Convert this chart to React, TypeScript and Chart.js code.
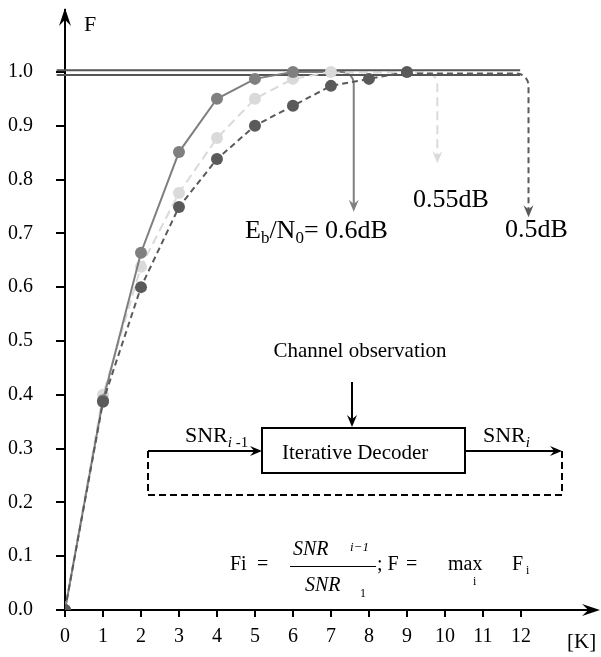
import React, { useEffect, useRef } from "react";
import { Chart, registerables } from "chart.js";

Chart.register(...registerables);

// ---- data ----
const kValues = [0, 1, 2, 3, 4, 5, 6, 7, 8, 9];
const f06dB = [0, 0.39, 0.664, 0.851, 0.95, 0.987, 1.0];
const f055dB = [0, 0.4, 0.638, 0.775, 0.877, 0.95, 0.987, 1.0];
const f05dB = [0, 0.387, 0.6, 0.749, 0.838, 0.9, 0.937, 0.974, 0.987, 1.0];
const xTickValues = [0, 1, 2, 3, 4, 5, 6, 7, 8, 9, 10, 11, 12];
const yTickValues = [0, 0.1, 0.2, 0.3, 0.4, 0.5, 0.6, 0.7, 0.8, 0.9, 1.0];
const limitLinesF = [1.003, 0.994];
const limitLineK = [-0.22, 11.98];
// convergence arrows per series (0.6dB, 0.55dB, 0.5dB)
const arrowStartK = [6, 7, 9];
const arrowLevelF = [1.0, 0.999, 0.997];
const arrowTurnK = [7.6, 9.8, 12.2];
const arrowEndF = [0.74, 0.83, 0.73];

const COL_MED = "#7f7f7f";
const COL_LIGHT = "#dadada";
const COL_DARK = "#5a5a5a";
const seriesColors = [COL_MED, COL_LIGHT, COL_DARK];
const seriesDash: number[][] = [[], [9, 5], [6, 4]];
const SERIF = "'Liberation Serif', 'Times New Roman', serif";

const toPts = (vals: number[]) => vals.map((v, i) => ({ x: kValues[i], y: v }));

type Run = { t: string; size: number; italic?: boolean; dy?: number };
function drawRuns(ctx: CanvasRenderingContext2D, x: number, y: number, runs: Run[]) {
  let cx = x;
  for (const r of runs) {
    ctx.font = `${r.italic ? "italic " : ""}${r.size}px ${SERIF}`;
    ctx.fillText(r.t, cx, y + (r.dy || 0));
    cx += ctx.measureText(r.t).width;
  }
}

function arrowHead(ctx: CanvasRenderingContext2D, tx: number, ty: number, dir: "down" | "up" | "right", len = 12, half = 5) {
  ctx.beginPath();
  if (dir === "down") {
    ctx.moveTo(tx, ty);
    ctx.lineTo(tx - half, ty - len);
    ctx.lineTo(tx, ty - len * 0.65);
    ctx.lineTo(tx + half, ty - len);
  } else if (dir === "up") {
    ctx.moveTo(tx, ty);
    ctx.lineTo(tx - half, ty + len);
    ctx.lineTo(tx, ty + len * 0.65);
    ctx.lineTo(tx + half, ty + len);
  } else {
    ctx.moveTo(tx, ty);
    ctx.lineTo(tx - len, ty - half);
    ctx.lineTo(tx - len * 0.65, ty);
    ctx.lineTo(tx - len, ty + half);
  }
  ctx.closePath();
  ctx.fill();
}

const convergencePlugin = {
  id: "convergence",
  beforeDatasetsDraw(chart: any) {
    const { ctx, scales } = chart;
    const xs = scales.x, ys = scales.y;
    ctx.save();
    for (let i = 0; i < arrowStartK.length; i++) {
      const x0 = xs.getPixelForValue(arrowStartK[i]);
      const yL = ys.getPixelForValue(arrowLevelF[i]);
      const xT = xs.getPixelForValue(arrowTurnK[i]);
      const yE = ys.getPixelForValue(arrowEndF[i]);
      const r = 12;
      ctx.strokeStyle = seriesColors[i];
      ctx.fillStyle = seriesColors[i];
      ctx.lineWidth = 2;
      ctx.setLineDash(seriesDash[i]);
      ctx.beginPath();
      ctx.moveTo(x0, yL);
      ctx.lineTo(xT - r, yL);
      ctx.arcTo(xT, yL, xT, yL + r, r);
      ctx.lineTo(xT, yE - 6);
      ctx.stroke();
      ctx.setLineDash([]);
      arrowHead(ctx, xT, yE, "down", 12, 5);
    }
    ctx.restore();
  },
  afterDraw(chart: any) {
    const { ctx, chartArea } = chart;
    ctx.save();
    ctx.fillStyle = "#000";
    ctx.strokeStyle = "#000";
    // axis arrows
    arrowHead(ctx, chartArea.left, 8, "up", 18, 6);
    arrowHead(ctx, 600, chartArea.bottom, "right", 18, 6);
    ctx.textBaseline = "alphabetic";
    ctx.textAlign = "left";
    drawRuns(ctx, 84, 31, [{ t: "F", size: 22 }]);
    drawRuns(ctx, 567, 648, [{ t: "[K]", size: 21 }]);

    // series labels
    drawRuns(ctx, 245, 238, [
      { t: "E", size: 26 },
      { t: "b", size: 17, dy: 5 },
      { t: "/N", size: 26 },
      { t: "0", size: 17, dy: 5 },
      { t: "= 0.6dB", size: 26 },
    ]);
    drawRuns(ctx, 413, 207, [{ t: "0.55dB", size: 26 }]);
    drawRuns(ctx, 505, 237, [{ t: "0.5dB", size: 26 }]);

    // block diagram
    ctx.textAlign = "center";
    ctx.font = `21px ${SERIF}`;
    ctx.fillText("Channel observation", 360, 357);
    ctx.textAlign = "left";
    ctx.lineWidth = 2;
    ctx.beginPath();
    ctx.moveTo(352, 382);
    ctx.lineTo(352, 420);
    ctx.stroke();
    arrowHead(ctx, 352, 427, "down", 12, 5);
    ctx.strokeRect(262, 428, 203, 45);
    drawRuns(ctx, 282, 459, [{ t: "Iterative Decoder", size: 21 }]);
    ctx.beginPath();
    ctx.moveTo(148, 451);
    ctx.lineTo(256, 451);
    ctx.moveTo(465, 451);
    ctx.lineTo(556, 451);
    ctx.stroke();
    arrowHead(ctx, 262, 451, "right", 12, 5);
    arrowHead(ctx, 562, 451, "right", 12, 5);
    drawRuns(ctx, 185, 442, [
      { t: "SNR", size: 22 },
      { t: "i", size: 15, italic: true, dy: 5 },
      { t: " -1", size: 15, dy: 5 },
    ]);
    drawRuns(ctx, 483, 442, [
      { t: "SNR", size: 22 },
      { t: "i", size: 15, italic: true, dy: 5 },
    ]);
    ctx.setLineDash([7, 4]);
    ctx.beginPath();
    ctx.moveTo(562, 451);
    ctx.lineTo(562, 495);
    ctx.lineTo(148, 495);
    ctx.lineTo(148, 451);
    ctx.stroke();
    ctx.setLineDash([]);

    // formula
    drawRuns(ctx, 230, 570, [{ t: "Fi", size: 20 }]);
    drawRuns(ctx, 257, 570, [{ t: "=", size: 20 }]);
    drawRuns(ctx, 293, 555, [{ t: "SNR", size: 20, italic: true }]);
    drawRuns(ctx, 350, 551, [{ t: "i\u22121", size: 13, italic: true }]);
    ctx.lineWidth = 1;
    ctx.beginPath();
    ctx.moveTo(290, 566.5);
    ctx.lineTo(376, 566.5);
    ctx.stroke();
    drawRuns(ctx, 305, 591, [{ t: "SNR", size: 20, italic: true }]);
    drawRuns(ctx, 360, 597, [{ t: "1", size: 12 }]);
    drawRuns(ctx, 377, 570, [{ t: "; F", size: 20 }]);
    drawRuns(ctx, 406, 570, [{ t: "=", size: 20 }]);
    drawRuns(ctx, 448, 570, [{ t: "max", size: 20 }]);
    drawRuns(ctx, 473, 585, [{ t: "i", size: 12 }]);
    drawRuns(ctx, 512, 570, [{ t: "F", size: 20 }]);
    drawRuns(ctx, 526, 574, [{ t: "i", size: 12 }]);
    ctx.restore();
  },
};

export default function App() {
  const ref = useRef<HTMLCanvasElement>(null);
  useEffect(() => {
    document.body.style.margin = "0";
    const pointDs = (label: string, vals: number[], idx: number, order: number) => ({
      label,
      data: toPts(vals),
      borderColor: seriesColors[idx],
      backgroundColor: seriesColors[idx],
      borderWidth: 2,
      borderDash: seriesDash[idx],
      pointRadius: 6,
      pointBorderWidth: 0,
      pointBackgroundColor: seriesColors[idx],
      tension: 0,
      order,
    });
    const chart = new Chart(ref.current!, {
      type: "line",
      data: {
        datasets: [
          pointDs("0.5dB", f05dB, 2, 1),
          pointDs("0.6dB", f06dB, 0, 2),
          pointDs("0.55dB", f055dB, 1, 3),
          ...limitLinesF.map((f) => ({
            label: "limit",
            data: limitLineK.map((k) => ({ x: k, y: f })),
            borderColor: "#555555",
            borderWidth: 2,
            pointRadius: 0,
            clip: false as any,
            order: 10,
          })),
        ],
      },
      options: {
        animation: false,
        responsive: false,
        devicePixelRatio: 1,
        layout: { padding: { top: 10, right: 0, bottom: 0, left: 0 } },
        plugins: { legend: { display: false }, tooltip: { enabled: false } },
        scales: {
          x: {
            type: "linear",
            min: 0,
            max: 13.95,
            afterBuildTicks: (s: any) => {
              s.ticks = xTickValues.map((v) => ({ value: v }));
            },
            afterFit: (s: any) => {
              s.height = 47;
              s.paddingLeft = 0;
              s.paddingRight = 0;
            },
            ticks: {
              color: "#000",
              font: { family: SERIF, size: 20 },
              padding: 8,
              maxRotation: 0,
              autoSkip: false,
              callback: (v: any) => String(v),
            },
            grid: { drawOnChartArea: false, drawTicks: true, tickLength: 7, color: "#000", lineWidth: 2 },
            border: { display: true, color: "#000", width: 2 },
          },
          y: {
            type: "linear",
            min: 0,
            max: 1.115,
            afterBuildTicks: (s: any) => {
              s.ticks = yTickValues.map((v) => ({ value: v }));
            },
            afterFit: (s: any) => {
              s.width = 65;
              s.paddingTop = 0;
              s.paddingBottom = 0;
            },
            ticks: {
              color: "#000",
              font: { family: SERIF, size: 20 },
              padding: 23,
              autoSkip: false,
              callback: (v: any) => Number(v).toFixed(1),
            },
            grid: { drawOnChartArea: false, drawTicks: true, tickLength: 9, color: "#000", lineWidth: 2 },
            border: { display: true, color: "#000", width: 2 },
          },
        },
      },
      plugins: [convergencePlugin],
    });
    return () => chart.destroy();
  }, []);
  return (
    <div style={{ width: 601, height: 657, background: "#fff" }}>
      <canvas ref={ref} width={601} height={657} />
    </div>
  );
}
